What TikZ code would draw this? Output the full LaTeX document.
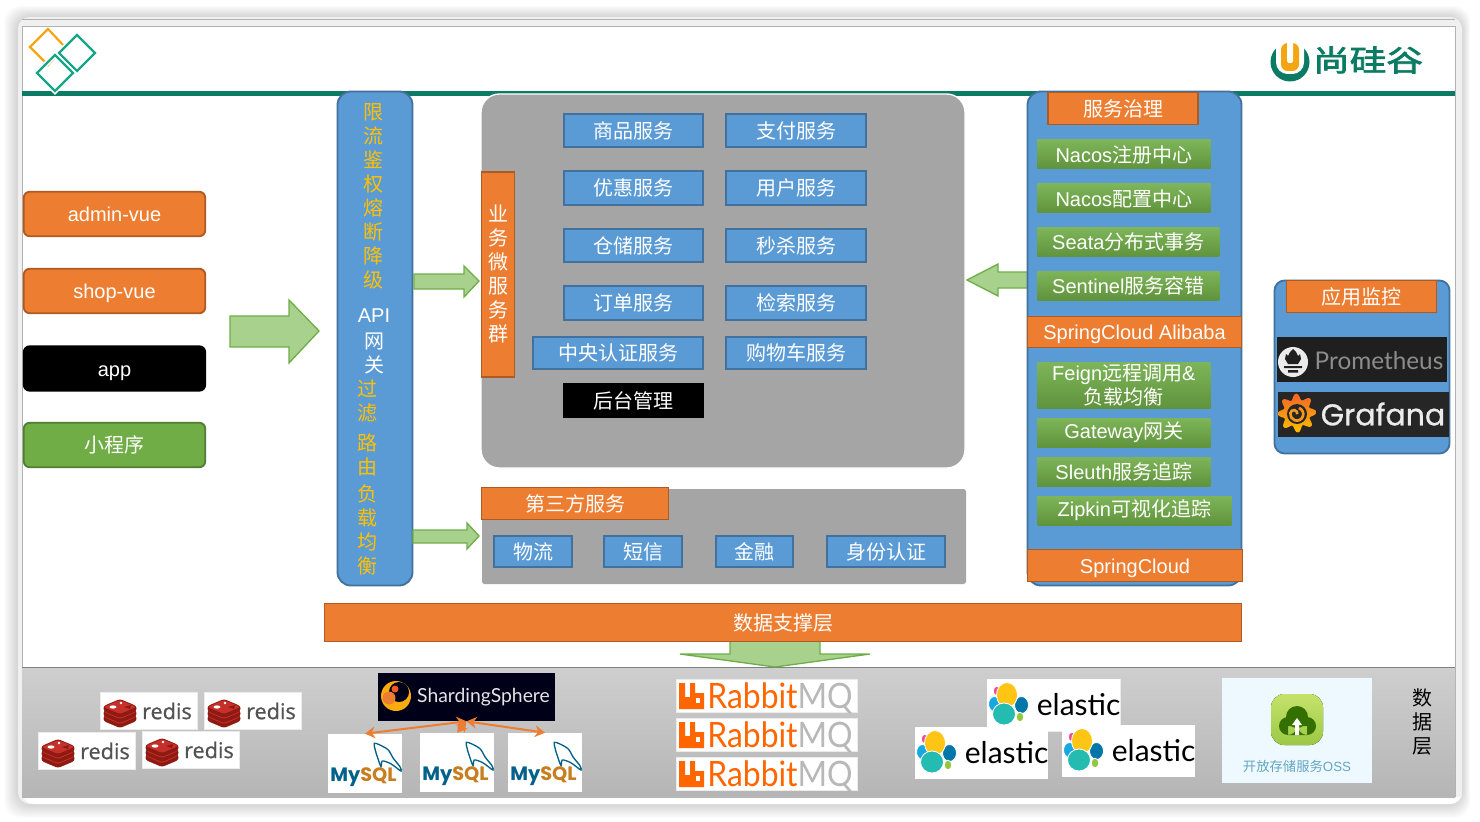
\documentclass[tikz,border=0pt]{standalone}
\usepackage{fontspec}
\usepackage{graphicx}
\usepackage{xcolor}
\usetikzlibrary{arrows.meta}
\setmainfont{Liberation Sans}
\newfontfamily\cjk{Noto Sans CJK SC}
\newfontfamily\brandfont[FakeBold=2.2]{Noto Sans CJK SC}
\newfontfamily\latofont{Lato}
\newfontfamily\popfont{Poppins}
\newfontfamily\graffont[FakeBold=0.8]{Poppins}
\newfontfamily\redisfont[FakeBold=0.8]{Open Sans}
\definecolor{bar}{HTML}{0B7B63}
\definecolor{tealline}{HTML}{17A589}
\definecolor{amber}{HTML}{F5A412}
\definecolor{oran}{HTML}{ED7D31}
\definecolor{oranline}{HTML}{AE5A21}
\definecolor{blu}{HTML}{5B9BD5}
\definecolor{bluline}{HTML}{41719C}
\definecolor{grn}{HTML}{70AD47}
\definecolor{grnline}{HTML}{507E32}
\definecolor{arrowfill}{HTML}{A9D18E}
\definecolor{panel}{HTML}{A5A5A5}
\definecolor{gold}{HTML}{FFC000}
\definecolor{rabbit}{HTML}{FF6600}
\definecolor{reddark}{HTML}{8F1A12}
\definecolor{redlight}{HTML}{C6302B}
\definecolor{sqlblue}{HTML}{00618A}
\definecolor{sqlor}{HTML}{C87E1E}
\definecolor{elyellow}{HTML}{FEC514}
\definecolor{elteal}{HTML}{24BBB1}
\definecolor{elblue}{HTML}{17A8E3}
\definecolor{eldeep}{HTML}{0077A8}
\definecolor{elpink}{HTML}{EE5097}
\definecolor{ellime}{HTML}{93C83E}
\definecolor{osstop}{HTML}{C5E26B}
\definecolor{ossbot}{HTML}{9CC944}
\def\px{0.6pt}
\tikzset{
  txt/.style={inner sep=0pt,text=white,font=\fontsize{12}{14.4}\selectfont},
  zhtxt/.style={txt,font=\fontsize{12}{14.4}\selectfont\cjk},
  oneline/.style={text height=9.5pt,text depth=0.5pt},
  client/.style={txt,draw=oranline,fill=oran,line width=1.1pt,rounded corners=3.6pt},
  svc/.style={zhtxt,draw=bluline,fill=blu,line width=1.1pt},
  tag/.style={zhtxt,draw=oranline,fill=oran,line width=1.1pt},
  gov/.style={txt,top color=grn!90!white,bottom color=grn!85!black},
  blockarrow/.style={draw=grn,fill=arrowfill,line width=0.8pt},
  tower/.style={draw=bluline,fill=blu,line width=1.1pt,rounded corners=8pt},
  whitebox/.style={fill=white,draw=white!92!black,line width=0.4pt},
}
\begin{document}
\begin{tikzpicture}[x=\px,y=-\px]
  \useasboundingbox (0,0) rectangle (1480,822);
  \fill[white] (0,0) rectangle (1480,822);
  % soft window shadow
  \foreach \s in {1,...,14}{
    \fill[black,opacity=0.013,rounded corners=10pt] (18-\s,17-\s*0.8) rectangle (1462+\s*0.6,804+\s);
  }
  % window
  \fill[gray!12,rounded corners=7pt] (18,17) rectangle (1462,804);
  \fill[white] (22,27) rectangle (1455,797);
  \fill[white,rounded corners=7pt] (22,780) rectangle (1462,804);
  \fill[gray!12] (1455,760) rectangle (1462,797);
  \draw[gray!60,line width=0.6pt] (22,20) -- (1455,20);
  \draw[gray!60,line width=0.6pt] (22,797) -- (22,27) -- (1455,27) -- (1455,797);
  % top bar
  \fill[bar] (22,91) rectangle (1455,96);
  \draw[amber,line width=1.3pt] (48,29) -- (65,47) -- (48,65) -- (30,47) -- cycle;
  \foreach \x/\y in {77/53,55/73}{
    \draw[white,line width=3.2pt] (\x,\y-18) -- (\x+18,\y) -- (\x,\y+18) -- (\x-18,\y) -- cycle;
    \draw[tealline,line width=1.3pt] (\x,\y-18) -- (\x+18,\y) -- (\x,\y+18) -- (\x-18,\y) -- cycle;
  }
  % company mark
  \fill[bar] (1290,62) circle (19.5);
  \fill[white,rounded corners=7pt] (1276,36) rectangle (1304,74);
  \fill[amber,rounded corners=4pt] (1281,43) rectangle (1299,71);
  \fill[white,rounded corners=1pt] (1287,41) rectangle (1293,63);
  \node[inner sep=0pt,text=bar,font=\fontsize{22}{24}\selectfont\brandfont] (brand) at (1368,60) {\scalebox{1}[0.8]{尚硅谷}};

  % clients
  \foreach \nm/\yy/\lab in {admin/214/admin-vue,shop/291/shop-vue}{
    \node[client,oneline,minimum width=181.5*\px,minimum height=44.5*\px] (\nm) at (114.5,\yy) {\lab};
  }
  \node[client,oneline,draw=black,fill=black,minimum width=181.5*\px,minimum height=44.5*\px] (appbox) at (114.5,368.5) {app};
  \node[client,font=\fontsize{12}{14.4}\selectfont\cjk,draw=grnline,fill=grn,minimum width=181.5*\px,minimum height=44.5*\px] (mini) at (114.5,445) {小程序};
  \draw[blockarrow] (230,316) -- (289,316) -- (289,300) -- (319,331) -- (289,363) -- (289,347) -- (230,347) -- cycle;

  % gateway
  \node[tower,inner sep=0pt,minimum width=75*\px,minimum height=494*\px] (gate) at (375,338.5) {};
  \foreach \ch/\yy [count=\i] in {限/112,流/136,鉴/160,权/184,熔/208,断/232,降/256,级/280}{
    \node[zhtxt,text=gold] (gwa\i) at (373,\yy) {\ch};
  }
  \node[txt] (gwapi) at (374,316) {API};
  \node[zhtxt] (gwnet) at (374,341) {网};
  \node[zhtxt] (gwgate) at (374,365) {关};
  \foreach \ch/\yy [count=\i] in {过/389,滤/413,路/443,由/467,负/494,载/518,均/542,衡/566}{
    \node[zhtxt,text=gold] (gwb\i) at (367,\yy) {\ch};
  }
  \draw[blockarrow] (414,274) -- (464,274) -- (464,266) -- (479,281) -- (464,297) -- (464,289) -- (414,289) -- cycle;
  \draw[blockarrow] (413,530) -- (467,530) -- (467,523) -- (479,536) -- (467,549) -- (467,543) -- (413,543) -- cycle;

  % service panel
  \node[draw=white,fill=panel,line width=0.8pt,rounded corners=11pt,inner sep=0pt,minimum width=484*\px,minimum height=374*\px] (svcpanel) at (723,281) {};
  \node[tag,minimum width=33*\px,minimum height=205*\px,align=center,font=\fontsize{12}{14.4}\selectfont\cjk] (biz) at (498,274.5) {业\\务\\微\\服\\务\\群};
  \foreach \nm/\cx/\cy/\ww/\hh/\lab in {goods/633.5/130.5/141/35/商品服务,pay/796/130.5/141/35/支付服务,coupon/633.5/188/141/35/优惠服务,user/796/188/141/35/用户服务,ware/633.5/245.5/141/35/仓储服务,seckill/796/245.5/141/35/秒杀服务,order/633.5/303/141/35/订单服务,search/796/303/141/35/检索服务,auth/618/353/172/34/中央认证服务,cart/796/353/141/34/购物车服务}{
    \node[svc,minimum width=(\ww-1.5)*\px,minimum height=(\hh-1.5)*\px] (\nm) at (\cx,\cy) {\lab};
  }
  \node[svc,draw=black,fill=black,minimum width=139.5*\px,minimum height=33.5*\px] (admin2) at (633.5,400.5) {后台管理};

  % third party panel
  \node[fill=panel,rounded corners=1.5pt,inner sep=0pt,minimum width=484*\px,minimum height=95*\px] (extpanel) at (724,536.5) {};
  \node[tag,minimum width=187*\px,minimum height=32*\px] (ext) at (575,503.5) {第三方服务};
  \foreach \nm/\cx/\ww/\lab in {ship/533/80/物流,sms/643/80/短信,fin/754.5/79/金融,idc/886/120/身份认证}{
    \node[svc,minimum width=(\ww-1.5)*\px,minimum height=31.5*\px] (\nm) at (\cx,551.5) {\lab};
  }
  \draw[blockarrow] (1027,272) -- (998,272) -- (998,264) -- (967,280) -- (998,296) -- (998,288) -- (1027,288);

  % spring cloud tower
  \node[tower,inner sep=0pt,minimum width=214*\px,minimum height=494*\px] (spring) at (1134.5,338.5) {};
  \node[tag,minimum width=150*\px,minimum height=32*\px] (gov) at (1123,108.5) {服务治理};
  \foreach \nm/\ww/\yy/\lab in {nacosa/173/154.5/{Nacos{\cjk 注册中心}},nacosb/173/198.5/{Nacos{\cjk 配置中心}},seata/182/242/{Seata{\cjk 分布式事务}},sentinel/182/285.5/{Sentinel{\cjk 服务容错}},gwy/173/432.5/{Gateway{\cjk 网关}},sleuth/173/471.5/{Sleuth{\cjk 服务追踪}},zipkin/194/510.5/{Zipkin{\cjk 可视化追踪}}}{
    \node[gov,anchor=west,minimum width=\ww*\px,minimum height=29*\px] (\nm) at (1037,\yy) {\lab};
  }
  \node[gov,anchor=west,align=center,minimum width=173*\px,minimum height=46*\px] (feign) at (1037,385) {Feign{\cjk 远程调用}\&\\{\cjk 负载均衡}};
  \node[tag,oneline,font=\fontsize{12}{14.4}\selectfont,minimum width=214*\px,minimum height=31*\px] (alibaba) at (1134.5,332) {SpringCloud Alibaba};
  \node[tag,oneline,font=\fontsize{12}{14.4}\selectfont,minimum width=215*\px,minimum height=32*\px] (cloud) at (1135,565.5) {SpringCloud};

  % monitor
  \node[tower,rounded corners=6pt,inner sep=0pt,minimum width=175*\px,minimum height=173*\px] (monitor) at (1362,367) {};
  \node[tag,minimum width=150*\px,minimum height=32*\px] (montag) at (1361.5,296.5) {应用监控};
  \node[fill=black!88,inner sep=0pt,minimum width=170*\px,minimum height=45*\px] (prombox) at (1362,359.5) {};
  \fill[white!92!black] (1293,362) circle (15);
  \fill[black!88] (1285,359) -- (1286,354) -- (1288,356) -- (1290,352) -- (1293,349) -- (1296,352) -- (1298,356) -- (1300,354) -- (1301,359) -- (1298,364) -- (1288,364) -- cycle;
  \fill[black!88] (1284,366) rectangle (1302,368) (1288,370) rectangle (1298,372.5);
  \node[inner sep=0pt,text=black!45,font=\fontsize{14.6}{16}\selectfont\latofont] (promtxt) at (1379,361) {Prometheus};
  \node[fill=black!85,inner sep=0pt,minimum width=171*\px,minimum height=45*\px] (grafbox) at (1363.5,414.5) {};
  \fill[bottom color=gold,top color=oran!80!red] plot[domain=0:360,samples=121,smooth] ({1297+(16.5+3*cos(8*\x+20))*cos(\x)},{413+(16.5+3*cos(8*\x+20))*sin(\x)}) -- cycle;
  \fill[black!85] (1297,414) circle (10);
  \draw[oran!60!gold,line width=1.6pt] (1299,408) arc (-70:190:6.5) arc (190:370:3.5);
  \node[inner sep=0pt,text=black!8,font=\fontsize{18}{20}\selectfont\graffont] (graftxt) at (1383,414) {Grafana};

  % data support layer
  \node[tag,minimum width=917*\px,minimum height=38*\px] (support) at (783,622.5) {数据支撑层};

  % data layer
  \node[top color=black!19,bottom color=black!29,inner sep=0pt,minimum width=1433*\px,minimum height=130*\px] (datalayer) at (738.5,732.5) {};
  \draw[gray,line width=0.5pt] (22,667.5) -- (1455,667.5);
  \draw[blockarrow] (730,642) -- (730,654) -- (680,654) -- (775,667) -- (870,654) -- (820,654) -- (820,642);
  \node[inner sep=0pt,text=black,align=center,font=\fontsize{12}{14.4}\selectfont\cjk] (datatag) at (1422,722) {数\\据\\层};

  % redis
  \foreach \x/\y/\nm in {100/692/reda,204/692/redb,38/732/redc,142/731/redd}{
    \fill[whitebox] (\x,\y) rectangle (\x+97,\y+37);
    \foreach \dy in {10,5,0}{
      \fill[reddark,rounded corners=1.5pt] (\x+3.5,\y+14+\dy) -- (\x+3.5,\y+19+\dy) -- (\x+20,\y+26+\dy) -- (\x+36.5,\y+19+\dy) -- (\x+36.5,\y+14+\dy) -- (\x+20,\y+7+\dy) -- cycle;
      \fill[redlight,rounded corners=1.5pt] (\x+3.5,\y+15+\dy) -- (\x+20,\y+8+\dy) -- (\x+36.5,\y+15+\dy) -- (\x+20,\y+22+\dy) -- cycle;
    }
    \fill[white] (\x+13,\y+15) ellipse [x radius=3.5,y radius=1.6];
    \fill[white] (\x+21,\y+11) circle (1.3);
    \fill[reddark] (\x+24,\y+15) -- (\x+31,\y+13) -- (\x+30,\y+17) -- cycle;
    \node[inner sep=0pt,text=black!68,font=\fontsize{13}{15}\selectfont\redisfont] (\nm) at (\x+67,\y+19) {redis};
  }

  % sharding and mysql
  \node[fill=black!90!blue,inner sep=0pt,minimum width=177*\px,minimum height=48*\px] (shard) at (466.5,697) {};
  \fill[gold!70!oran] (396,696) circle (15);
  \fill[black!90!blue] (399,692) circle (10);
  \fill[oran] (389,698) circle (6.5);
  \fill[oran!70!red] (395,689) circle (3.5);
  \node[inner sep=0pt,text=black!10,font=\fontsize{11.6}{13}\selectfont\latofont] (shardtxt) at (483.5,697) {ShardingSphere};
  \foreach \x/\y/\nm in {328/734/sqla,420/733/sqlb,508/733/sqlc}{
    \node[fill=white,inner sep=0pt,minimum width=74*\px,minimum height=59*\px] (\nm) at (\x+37,\y+29.5) {};
    \draw[sqlblue,fill=white,line width=0.8pt] plot[smooth cycle,tension=0.5] coordinates {(\x+46.3,\y+9.3) (\x+52,\y+11) (\x+60.3,\y+16) (\x+65.3,\y+24.3) (\x+72,\y+32.7) (\x+73,\y+37) (\x+67,\y+32.7) (\x+62,\y+29.3) (\x+54.3,\y+27) (\x+53,\y+32.7) (\x+49.3,\y+22.7) (\x+47,\y+15)};
    \node[inner sep=0pt,font=\fontsize{11.6}{14}\selectfont\popfont\bfseries] (\nm txt) at (\x+35.5,\y+43.5) {\textcolor{sqlblue}{My}\textcolor{sqlor}{SQL}};
  }
  \foreach \nm in {sqla,sqlb,sqlc}{
    \draw[{Stealth[length=6pt,width=7pt]}-{Stealth[length=6pt,width=7pt]},oran,line width=1.2pt] (shard.south) -- (\nm.north);
  }

  % rabbitmq
  \foreach \y/\nm in {679/rabbita,718/rabbitb,757/rabbitc}{
    \fill[whitebox] (676,\y) rectangle (857,\y+33.5);
    \fill[rabbit] (679,\y+4) -- (685,\y+4) -- (685,\y+18) -- (690,\y+18) -- (690,\y+4) -- (695,\y+4) -- (695,\y+14) -- (704,\y+14) -- (704,\y+30) -- (679,\y+30) -- cycle;
    \fill[white] (696,\y+19) rectangle (700,\y+24);
    \node[inner sep=0pt,font=\fontsize{21}{23}\selectfont\latofont,anchor=base west] (\nm) at (707,\y+29) {\scalebox{0.91}[1]{\textcolor{rabbit}{Rabbit}\textcolor{black!28}{MQ}}};
  }

  % elastic
  \fill[whitebox] (987,679) rectangle (1120,731);
  \foreach \x/\y/\nm in {987/679/elasa,915/727/elasb,1062/725/elasc}{
    \fill[white] (\x,\y) rectangle (\x+133,\y+52);
    \filldraw[white,line width=0.5pt,fill=elblue] (\x+7.5,\y+25) ellipse [x radius=6,y radius=7.5];
    \filldraw[white,line width=0.5pt,fill=eldeep] (\x+34.5,\y+26) ellipse [x radius=7,y radius=8.5];
    \filldraw[white,line width=0.5pt,fill=elpink] (\x+10,\y+12) ellipse [x radius=3.8,y radius=4.8];
    \filldraw[white,line width=0.5pt,fill=ellime] (\x+33,\y+38) ellipse [x radius=3.8,y radius=4.8];
    \filldraw[white,line width=0.5pt,fill=elyellow] (\x+20,\y+16) ellipse [x radius=10.5,y radius=12.5];
    \filldraw[white,line width=0.5pt,fill=elteal] (\x+17,\y+35) ellipse [x radius=11.5,y radius=11];
    \node[inner sep=0pt,text=black,font=\fontsize{18}{20}\selectfont\latofont,anchor=west] (\nm) at (\x+49.5,\y+26) {elastic};
  }

  % object storage
  \node[fill=cyan!7,inner sep=0pt,minimum width=150*\px,minimum height=105*\px] (ossbox) at (1297,730.5) {};
  \fill[top color=osstop,bottom color=ossbot,rounded corners=8pt] (1271,694) rectangle (1323,745);
  \fill[black!60!green!60!olive] (1288,726) circle (9) (1297,717) circle (11) (1307,726) circle (9) (1288,726) rectangle (1307,735);
  \fill[white] (1297,718) -- (1302,725) -- (1299,725) -- (1299,735) -- (1295,735) -- (1295,725) -- (1292,725) -- cycle;
  \node[inner sep=0pt,text=cyan!50!gray,font=\fontsize{8}{10}\selectfont] (osstxt) at (1297,766) {{\cjk 开放存储服务}OSS};
\end{tikzpicture}
\end{document}
